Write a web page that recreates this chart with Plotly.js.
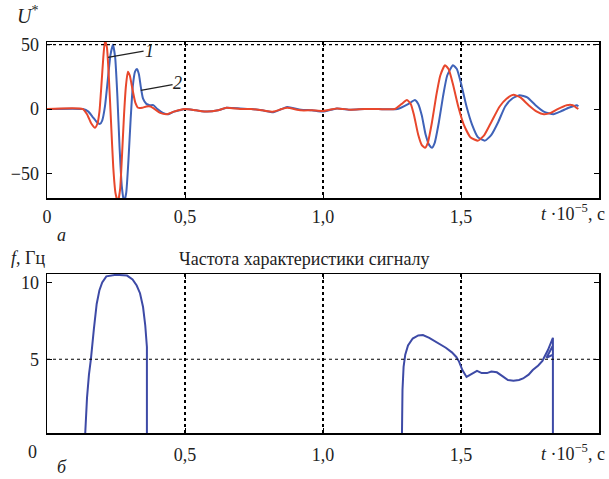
<!DOCTYPE html>
<html>
<head>
<meta charset="utf-8">
<script src="https://cdn.plot.ly/plotly-3.0.1.min.js"></script>
<style>html,body{margin:0;padding:0;background:#fff;}#chart{width:609px;height:479px;}</style>
</head>
<body>
<div id="chart"></div>
<script>
// ---- Data ----
var tBlue = [0,0.13,0.15,0.165,0.18,0.192,0.2,0.21,0.22,0.23,0.239,0.247,0.255,0.263,0.271,0.279,0.287,0.295,0.303,0.311,0.319,0.326,0.333,0.34,0.348,0.36,0.372,0.385,0.4,0.42,0.44,0.46,0.48,0.5,
  0.54,0.58,0.62,0.65,0.7,0.74,0.78,0.82,0.85,0.87,0.92,0.96,1.0,1.05,1.1,1.15,1.2,1.27,
  1.31,1.333,1.345,1.358,1.372,1.385,1.395,1.405,1.42,1.435,1.45,1.471,1.485,1.5,1.52,1.54,1.562,1.587,1.61,1.635,1.66,1.685,1.712,1.74,1.77,1.8,1.835,1.86,1.89,1.92,1.925];
var uBlue = [0,0,-2,-6,-10,-11.5,-9,2,22,42,50,40,10,-30,-60,-72,-65,-40,-8,18,29,31,27,17,8,4,3,3,0,-3,-4,-2,-1,0,
  -1,-2,-1,1,0.5,0,-1,-2.5,0,1.5,-0.5,-1,-2,0.5,-0.5,0,0,0,
  4,7,4,-5,-20,-28,-30,-26,-10,10,26,34,31,20,2,-12,-22,-24.5,-20,-10,2,8,10.7,9,3,-2,-4,-2,1,3,2];

var tRed = [0,0.13,0.145,0.16,0.174,0.183,0.19,0.197,0.204,0.21,0.217,0.224,0.232,0.24,0.248,0.257,0.265,0.272,0.279,0.286,0.293,0.3,0.31,0.32,0.33,0.345,0.36,0.375,0.39,0.41,0.435,0.46,0.5,
  0.54,0.58,0.62,0.65,0.7,0.74,0.78,0.82,0.85,0.87,0.92,0.96,1.0,1.05,1.1,1.15,1.2,1.26,
  1.285,1.304,1.318,1.33,1.345,1.358,1.37,1.38,1.395,1.41,1.425,1.442,1.455,1.47,1.49,1.51,1.535,1.562,1.585,1.61,1.64,1.665,1.69,1.715,1.745,1.775,1.8,1.825,1.85,1.883,1.905,1.925];
var uRed = [0,0,-4,-11,-14.5,-11,-2,18,40,53,48,25,-10,-45,-65,-72,-62,-35,-5,18,29,26,15,5,1,1,2,2,0,-3,-4,-2,0,
  -1,-2,-1,1,0,0,-1,-2,0,1,-1,-1,-1.5,0.5,-0.5,0,0,0,
  4,7,4,-5,-20,-28,-30,-26,-10,10,26,34,31,20,2,-12,-22,-24.5,-20,-10,2,8,11,9,3,-2,-4,-3,0,3,3,0];

var tFreq = [0.138,0.145,0.152,0.159,0.17,0.18,0.19,0.2,0.215,0.25,0.29,0.31,0.325,0.337,0.348,0.356,0.362,0.362,null,
  1.286,1.288,1.292,1.298,1.308,1.325,1.345,1.362,1.385,1.405,1.424,1.445,1.467,1.483,1.493,1.505,1.52,1.535,1.558,1.575,1.594,1.61,1.63,1.65,1.67,1.69,1.71,1.725,1.745,1.76,1.78,1.795,1.815,1.833,1.833,1.81,1.833,1.833];
var fFreq = [0,2.5,4,5,7,8.6,9.5,10,10.4,10.5,10.45,10.2,9.8,9.3,8.4,7.2,5.8,0,null,
  0,3,4.5,5.3,5.9,6.35,6.55,6.58,6.4,6.2,6.0,5.75,5.45,5.15,4.85,4.3,3.85,4.0,4.25,4.1,4.1,4.2,4.15,3.9,3.65,3.6,3.65,3.75,4.0,4.3,4.6,4.9,5.6,6.4,5.3,5.1,5.9,0];

var xTickVals = [0,0.5,1,1.5];
var xTickText = ['0','0,5','1,0','1,5'];
var xTickVals2 = [0.5,1,1.5];
var xTickText2 = ['0,5','1,0','1,5'];
var yTickVals1 = [-50,0,50];
var yTickText1 = ['\u221250','0','50'];
var yTickVals2 = [5,10];
var yTickText2 = ['5','10'];
var gridTop = [50];
var gridBottom = [5];

var serif = 'Liberation Serif, Times New Roman, serif';
var blue = '#3f62b8';
var red = '#e8472c';
var navy = '#3d4aa6';
var ink = '#222';

var traces = [
  {x: tBlue, y: uBlue, type: 'scatter', mode: 'lines', line: {color: blue, width: 2, shape: 'spline', smoothing: 0.5}, xaxis: 'x', yaxis: 'y', name: '1'},
  {x: tRed, y: uRed, type: 'scatter', mode: 'lines', line: {color: red, width: 2, shape: 'spline', smoothing: 0.5}, xaxis: 'x', yaxis: 'y', name: '2'},
  {x: tFreq, y: fFreq, type: 'scatter', mode: 'lines', line: {color: navy, width: 2}, xaxis: 'x2', yaxis: 'y2', connectgaps: false, name: 'f'}
];

function xAxis(vals, text, anchor, standoff) {
  return {
    range: [0, 2], domain: [0, 1], anchor: anchor,
    tickvals: vals, ticktext: text, ticks: 'inside', ticklen: 5, tickcolor: '#000',
    showline: true, linecolor: '#000', linewidth: 1.5, mirror: 'ticks',
    showgrid: true, gridcolor: '#000', griddash: 'dot', gridwidth: 1.2,
    zeroline: false, tickfont: {family: serif, size: 18, color: ink},
    ticklabelstandoff: standoff
  };
}
function yAxis(range, domain, vals, text, anchor) {
  return {
    range: range, domain: domain, anchor: anchor,
    tickvals: vals, ticktext: text, ticks: 'inside', ticklen: 5, tickcolor: '#000',
    showline: true, linecolor: '#000', linewidth: 1.5, mirror: 'ticks',
    showgrid: false, zeroline: false,
    tickfont: {family: serif, size: 18, color: ink}, ticklabelstandoff: 3
  };
}

var shapes = [];
gridTop.forEach(function (v) {
  shapes.push({type: 'line', xref: 'paper', yref: 'y', x0: 0, x1: 1, y0: v, y1: v, line: {color: '#000', width: 1.2, dash: 'dot'}});
});
gridBottom.forEach(function (v) {
  shapes.push({type: 'line', xref: 'paper', yref: 'y2', x0: 0, x1: 1, y0: v, y1: v, line: {color: '#000', width: 1.2, dash: 'dot'}});
});

function lab(text, x, y, size, xref, yref) {
  return {text: text, xref: xref || 'paper', yref: yref || 'paper', x: x, y: y, xanchor: 'center', yanchor: 'middle',
          showarrow: false, font: {family: serif, size: size, color: ink}};
}
var ann = [
  lab('<i>U</i><sup>*</sup>', -0.036, 1.069, 20),
  lab('<i>a</i>', 0.027, 0.506, 18),
  lab('<i>f</i>, Гц', -0.034, 0.4476, 18),
  lab('Частота характеристики сигналу', 0.467, 0.445, 18),
  lab('<i>б</i>', 0.027, -0.087, 18),
  lab('0', -0.027, -0.0486, 18),
  lab('<i>t</i> ·10<sup>−5</sup>, c', 0.953, 0.565, 18),
  lab('<i>t</i> ·10<sup>−5</sup>, c', 0.953, -0.0486, 18),
  lab('<i>1</i>', 0.37, 45, 18, 'x', 'y'),
  lab('<i>2</i>', 0.474, 20, 18, 'x', 'y')
];
// leader lines for labels 1 and 2
shapes.push({type: 'line', xref: 'x', yref: 'y', x0: 0.221, y0: 40, x1: 0.35, y1: 45, line: {color: ink, width: 1.3}});
shapes.push({type: 'line', xref: 'x', yref: 'y', x0: 0.34, y0: 14.5, x1: 0.455, y1: 19, line: {color: ink, width: 1.3}});

var layout = {
  width: 609, height: 479,
  margin: {l: 47, r: 10, t: 42, b: 46},
  paper_bgcolor: '#fff', plot_bgcolor: '#fff',
  showlegend: false,
  xaxis: xAxis(xTickVals, xTickText, 'y', 2),
  yaxis: yAxis([-69, 52], [0.601, 1], yTickVals1, yTickText1, 'x'),
  xaxis2: xAxis(xTickVals2, xTickText2, 'y2', 5),
  yaxis2: yAxis([0.2, 10.55], [0, 0.4066], yTickVals2, yTickText2, 'x2'),
  shapes: shapes,
  annotations: ann,
  font: {family: serif}
};

Plotly.newPlot('chart', traces, layout, {displayModeBar: false, staticPlot: true});
</script>
</body>
</html>
